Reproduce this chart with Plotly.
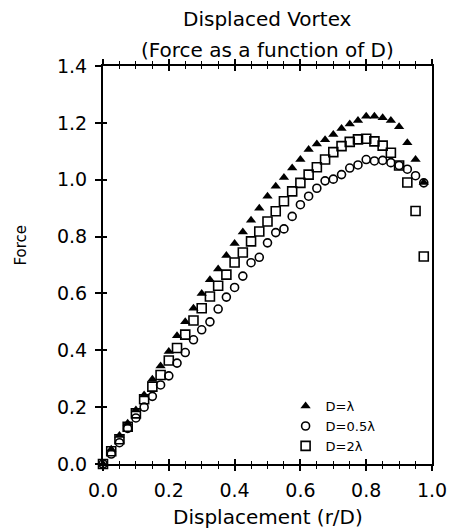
import plotly.graph_objects as go

# ---- data ----
displacement = [0.0, 0.025, 0.05, 0.075, 0.1, 0.125, 0.15, 0.175, 0.2, 0.225,
                0.25, 0.275, 0.3, 0.325, 0.35, 0.375, 0.4, 0.425, 0.45, 0.475,
                0.5, 0.525, 0.55, 0.575, 0.6, 0.625, 0.65, 0.675, 0.7, 0.725,
                0.75, 0.775, 0.8, 0.825, 0.85, 0.875, 0.9, 0.925, 0.95, 0.975]

force_d_lambda = [0.0, 0.052, 0.100, 0.143, 0.190, 0.243, 0.298, 0.345, 0.396, 0.451,
                  0.500, 0.548, 0.600, 0.648, 0.686, 0.733, 0.776, 0.816, 0.857, 0.900,
                  0.942, 0.977, 1.008, 1.041, 1.071, 1.106, 1.126, 1.141, 1.159, 1.180,
                  1.196, 1.208, 1.223, 1.223, 1.218, 1.208, 1.186, 1.130, 1.071, 0.990]

force_d_half_lambda = [0.0, 0.035, 0.075, 0.125, 0.162, 0.200, 0.238, 0.278, 0.310, 0.355,
                       0.392, 0.437, 0.472, 0.500, 0.545, 0.587, 0.621, 0.661, 0.708, 0.727,
                       0.778, 0.814, 0.827, 0.871, 0.912, 0.942, 0.970, 0.996, 1.002, 1.018,
                       1.041, 1.052, 1.071, 1.066, 1.068, 1.060, 1.050, 1.037, 1.014, 0.989]

force_d_2lambda = [0.0, 0.045, 0.087, 0.131, 0.178, 0.228, 0.272, 0.313, 0.364, 0.408,
                   0.455, 0.505, 0.548, 0.589, 0.627, 0.666, 0.709, 0.744, 0.783, 0.818,
                   0.853, 0.889, 0.924, 0.959, 0.989, 1.018, 1.044, 1.071, 1.097, 1.118,
                   1.133, 1.142, 1.144, 1.135, 1.120, 1.095, 1.050, 0.990, 0.890, 0.730]

series_names = ["D=λ", "D=0.5λ", "D=2λ"]
x_ticks = [0.0, 0.2, 0.4, 0.6, 0.8, 1.0]
y_ticks = [0.0, 0.2, 0.4, 0.6, 0.8, 1.0, 1.2, 1.4]

FONT = "DejaVu Sans"
INK = "#000000"

fig = go.Figure()
fig.add_trace(go.Scatter(
    x=displacement, y=force_d_lambda, mode="markers", name=series_names[0],
    cliponaxis=False,
    marker=dict(symbol="triangle-up", size=9, color=INK, line=dict(width=0))))
fig.add_trace(go.Scatter(
    x=displacement, y=force_d_half_lambda, mode="markers", name=series_names[1],
    cliponaxis=False,
    marker=dict(symbol="circle-open", size=8, color=INK, line=dict(width=1.6, color=INK))))
fig.add_trace(go.Scatter(
    x=displacement, y=force_d_2lambda, mode="markers", name=series_names[2],
    cliponaxis=False,
    marker=dict(symbol="square-open", size=9, color=INK, line=dict(width=1.6, color=INK))))
# empty trace to activate the overlay axes used for the inward half of crossing ticks
fig.add_trace(go.Scatter(x=[], y=[], xaxis="x2", yaxis="y2", showlegend=False,
                         hoverinfo="skip"))

axis_font = dict(family=FONT, size=19, color=INK)
title_font = dict(family=FONT, size=20, color=INK)

fig.update_layout(
    width=459, height=528,
    margin=dict(l=103, r=18, t=66, b=64),
    paper_bgcolor="white", plot_bgcolor="white",
    font=dict(family=FONT, color=INK),
    showlegend=True,
    legend=dict(x=0.555, y=0.183, xanchor="left", yanchor="top",
                bgcolor="rgba(0,0,0,0)", font=dict(family=FONT, size=13, color=INK),
                itemsizing="trace", tracegroupgap=0),
    xaxis=dict(range=[0, 1.0], tickvals=x_ticks, tickformat=".1f",
               showgrid=False, zeroline=False,
               showline=True, linewidth=2, linecolor=INK, mirror="ticks",
               ticks="outside", ticklen=5, tickwidth=1.5, tickcolor=INK,
               minor=dict(dtick=0.05, ticks="outside", ticklen=3, tickwidth=1.2,
                          tickcolor=INK, showgrid=False),
               tickfont=axis_font, ticklabelstandoff=3),
    yaxis=dict(range=[0, 1.4], tickvals=y_ticks, tickformat=".1f",
               showgrid=False, zeroline=False,
               showline=True, linewidth=2, linecolor=INK, mirror=True,
               ticks="outside", ticklen=6, tickwidth=1.5, tickcolor=INK,
               tickfont=axis_font, ticklabelstandoff=4),
    xaxis2=dict(range=[0, 1.0], overlaying="x", anchor="y2", tickvals=x_ticks,
                showticklabels=False, showgrid=False, zeroline=False, showline=False,
                mirror="ticks", ticks="inside", ticklen=5, tickwidth=1.5, tickcolor=INK,
                minor=dict(dtick=0.05, ticks="inside", ticklen=3, tickwidth=1.2,
                           tickcolor=INK, showgrid=False)),
    yaxis2=dict(range=[0, 1.4], overlaying="y", anchor="x2", tickvals=y_ticks,
                showticklabels=False, showgrid=False, zeroline=False, showline=False,
                ticks="inside", ticklen=4, tickwidth=1.5, tickcolor=INK),
    annotations=[
        dict(text="Displaced Vortex", xref="paper", yref="paper", x=0.5, y=1.119,
             xanchor="center", yanchor="middle", showarrow=False, font=title_font),
        dict(text="(Force as a function of D)", xref="paper", yref="paper", x=0.5, y=1.04,
             xanchor="center", yanchor="middle", showarrow=False, font=title_font),
        dict(text="Displacement (r/D)", xref="paper", yref="paper", x=0.5, y=-0.133,
             xanchor="center", yanchor="middle", showarrow=False, font=title_font),
        dict(text="Force", xref="paper", yref="paper", x=-0.248, y=0.55,
             xanchor="center", yanchor="middle", showarrow=False, textangle=-90,
             font=dict(family=FONT, size=15, color=INK)),
    ],
)

fig.write_html("out.html")
